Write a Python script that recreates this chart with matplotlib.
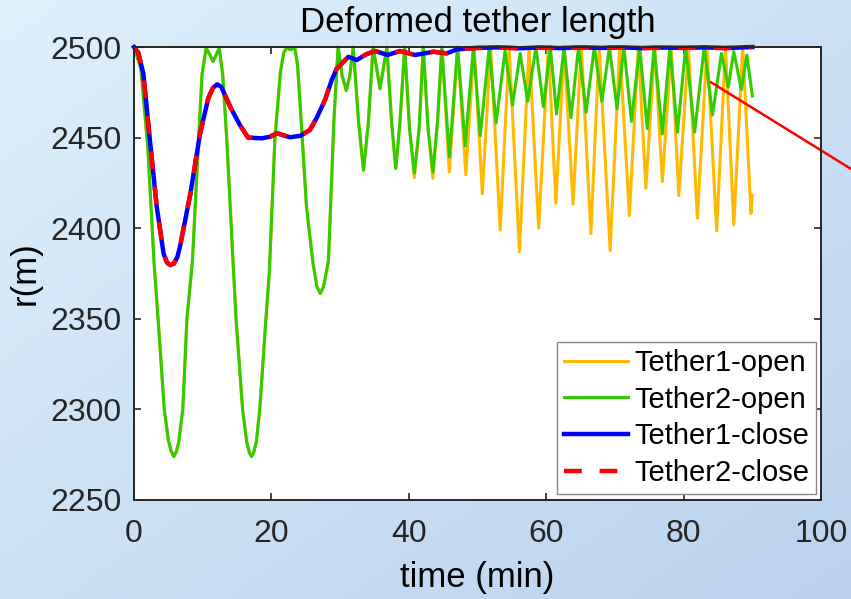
import numpy as np
import matplotlib
matplotlib.use("Agg")
import matplotlib.pyplot as plt

plt.rcParams['font.family'] = ['Liberation Sans', 'DejaVu Sans']

# Tether2-open (green)
t_open2 = [0, 1, 2, 2.9, 3.5, 4.4, 5.0, 5.4, 5.8, 6.2, 6.5, 7.1, 7.7, 8.5, 9.4, 9.9,
           10.5, 11.0, 11.5, 12.0, 12.4, 12.9, 13.5, 14.4, 14.85, 15.8, 16.4, 16.8,
           17.1, 17.4, 17.8, 18.3, 19.2, 19.7, 20.5, 21.3, 21.8, 22.2, 22.8, 23.4,
           23.8, 24.2, 25.1, 26.0, 26.6, 27.1, 27.6, 28.3, 29.1, 29.7, 30.3, 30.9,
           31.4, 31.9, 32.7, 33.4, 34.1, 34.8, 35.8, 36.8, 37.5, 38.1, 38.7, 39.4,
           40.1, 40.8, 41.5, 42.1, 42.8, 43.5, 44.2, 44.8,
           45.9, 47.1, 48.2, 49.4, 50.4, 51.7, 52.7, 54.0, 55.1, 56.2, 57.3, 58.5,
           59.6, 60.6, 61.5, 62.6, 63.6, 64.7, 65.8, 67.0, 68.1, 69.2, 70.3, 71.3,
           72.4, 73.6, 74.7, 75.7, 76.9, 78.0, 79.1, 80.3, 81.6, 83.0, 84.2, 85.5,
           86.5, 87.3, 88.4, 89.2, 90.0]
r_open2 = [2500, 2488, 2445, 2382, 2350, 2300, 2283, 2277, 2274, 2277, 2282, 2300,
           2350, 2382, 2449, 2485, 2499.5, 2496, 2492, 2496, 2499.5, 2485, 2449,
           2382, 2350, 2300, 2282, 2276, 2274, 2276, 2282, 2300, 2350, 2376, 2449,
           2486, 2497, 2499.5, 2498.5, 2499.5, 2490, 2467, 2412, 2382, 2368, 2364,
           2368, 2382, 2460, 2500, 2484, 2476, 2484, 2500, 2458, 2432, 2458, 2500,
           2477, 2500, 2458, 2433, 2458, 2500, 2455, 2430.5, 2455, 2500, 2455, 2431,
           2460, 2500,
           2439.5, 2500, 2445.5, 2500, 2451, 2500, 2458, 2498, 2468, 2496.5, 2470,
           2500, 2467, 2500, 2463, 2500, 2461, 2500, 2464, 2500, 2470, 2500, 2466,
           2500, 2459, 2500, 2455, 2500, 2452, 2500, 2453, 2500, 2453, 2500, 2462.5,
           2496.5, 2478, 2497.5, 2476.5, 2495.5, 2473]

# Tether1-open (orange): same as green up to ~44 min, then deeper troughs
t_open1 = [0, 1, 2, 2.9, 3.5, 4.4, 5.0, 5.4, 5.8, 6.2, 6.5, 7.1, 7.7, 8.5, 9.4, 9.9,
           10.5, 11.0, 11.5, 12.0, 12.4, 12.9, 13.5, 14.4, 14.85, 15.8, 16.4, 16.8,
           17.1, 17.4, 17.8, 18.3, 19.2, 19.7, 20.5, 21.3, 21.8, 22.2, 22.8, 23.4,
           23.8, 24.2, 25.1, 26.0, 26.6, 27.1, 27.6, 28.3, 29.1, 29.7, 30.3, 30.9,
           31.4, 31.9, 32.7, 33.4, 34.1, 34.8, 35.8, 36.8, 37.5, 38.1, 38.7, 39.4,
           40.1, 40.8, 41.5, 42.1, 42.8, 43.5, 44.2, 44.8,
           45.9, 47.1, 48.3, 49.5, 50.7, 51.9, 53.3, 54.6, 56.1, 57.5,
           58.9, 60.3, 61.4, 62.6, 63.9, 65.1, 66.5, 67.7, 69.3, 70.7,
           72.1, 73.4, 74.5, 75.8, 76.9, 78.2, 79.3, 80.7, 82.0, 83.4,
           84.8, 86.1, 87.3, 88.6, 89.8, 90.0]
r_open1 = [2500, 2488, 2445, 2382, 2350, 2300, 2283, 2277, 2274, 2277, 2282, 2300,
           2350, 2382, 2449, 2485, 2499.5, 2496, 2492, 2496, 2499.5, 2485, 2449,
           2382, 2350, 2300, 2282, 2276, 2274, 2276, 2282, 2300, 2350, 2376, 2449,
           2486, 2497, 2499.5, 2498.5, 2499.5, 2490, 2467, 2412, 2382, 2368, 2364,
           2368, 2382, 2460, 2500, 2484, 2476, 2484, 2500, 2458, 2432, 2458, 2500,
           2477, 2500, 2458, 2433, 2458, 2500, 2455, 2428, 2455, 2500, 2455, 2427.5,
           2460, 2500,
           2431, 2500, 2429.4, 2500, 2419, 2500, 2399, 2500, 2387, 2500, 2400, 2500,
           2413.7, 2500, 2413.4, 2500, 2397, 2500, 2387.6, 2500, 2407, 2500, 2422,
           2500, 2425.7, 2500, 2418, 2500, 2405.5, 2500, 2398.6, 2500, 2402, 2500,
           2408, 2418]

# Tether1-close / Tether2-close (same curve)
t_close = [0, 0.6, 1.35, 2.3, 3.3, 4.3, 4.8, 5.3, 5.8, 6.3, 6.7, 8.2, 9.6, 10.8,
           11.5, 12.1, 12.7, 13.3, 14.0, 15.4, 16.6, 18.6, 19.8, 20.8, 22.0, 22.7,
           24.2, 25.6, 26.6, 27.8, 28.8, 29.5, 31.2, 32.4, 33.8, 35.1, 36.9, 38.7,
           40.9, 43.6, 45.5, 47.0, 50, 53, 56, 59, 62, 65, 68, 71, 74, 77, 80, 83,
           86, 88, 90]
r_close = [2500, 2497, 2485.5, 2449, 2412, 2386, 2381, 2379.7, 2380.5, 2384, 2390,
           2419, 2452, 2471.7, 2477.5, 2479.4, 2478, 2473, 2467, 2457, 2450, 2449.6,
           2450.5, 2452.4, 2451, 2450.2, 2451, 2454.2, 2461, 2470.8, 2482, 2488,
           2494.6, 2492.8, 2496, 2497.8, 2495.6, 2497.8, 2495.6, 2497.4, 2496.5,
           2498.7, 2499.5, 2499.8, 2499.3, 2499.7, 2499.4, 2499.8, 2499.5, 2499.8,
           2499.4, 2499.7, 2499.5, 2499.8, 2499.4, 2499.7, 2500]

labels = ['Tether1-open', 'Tether2-open', 'Tether1-close', 'Tether2-close']

# red pointer line running off the right side
pointer_t = [84.0, 110.0]
pointer_r = [2480.5, 2419.5]

fig = plt.figure(figsize=(8.51, 5.99), dpi=100)

# light blue diagonal gradient background
bg = fig.add_axes([0, 0, 1, 1], zorder=-10)
gx, gy = np.meshgrid(np.linspace(0, 1, 200), np.linspace(0, 1, 200))
g = (gx + gy) / 2
c0 = np.array([222, 240, 252]) / 255
c1 = np.array([186, 210, 238]) / 255
img = c0[None, None, :] * (1 - g[..., None]) + c1[None, None, :] * g[..., None]
bg.imshow(img, aspect='auto', extent=[0, 1, 0, 1], origin='upper')
bg.axis('off')

ax = fig.add_axes([0.1575, 0.1653, 0.8073, 0.7562])
ax.set_facecolor('white')

lkw = dict(clip_on=False, solid_joinstyle='round', dash_joinstyle='round')
ax.plot(t_open1, r_open1, color='#FFB900', lw=2.2, label=labels[0], **lkw)
ax.plot(t_open2, r_open2, color='#33CC00', lw=2.2, label=labels[1], **lkw)
ax.plot(t_close, r_close, color='#0000FF', lw=3.2, label=labels[2], **lkw)
ax.plot(t_close, r_close, color='#FF0000', lw=3.2, dashes=(4, 4), label=labels[3],
        **lkw)
ax.plot(pointer_t, pointer_r, color='#FF0000', lw=1.8, clip_on=False)

ax.set_xlim(0, 100)
ax.set_ylim(2250, 2500)
ax.set_xticks([0, 20, 40, 60, 80, 100])
ax.set_yticks([2250, 2300, 2350, 2400, 2450, 2500])
ax.tick_params(direction='in', length=5, width=1.2, labelsize=23, colors='#262626',
               top=True, right=True)
ax.tick_params(axis='x', pad=14)
ax.tick_params(axis='y', pad=9)
for s in ax.spines.values():
    s.set_linewidth(1.4)
    s.set_color('#262626')

ax.set_title('Deformed tether length', fontsize=25, pad=11)
ax.set_xlabel('time (min)', fontsize=25, labelpad=8)
ax.set_ylabel('r(m)', fontsize=25, labelpad=6)

leg = ax.legend(loc='lower right', bbox_to_anchor=(816 / 851, 1 - 494 / 599),
                bbox_transform=fig.transFigure, fontsize=21, fancybox=False,
                framealpha=1, edgecolor='#888888', handlelength=2.2,
                handletextpad=0.2, labelspacing=0.3, borderpad=0.24,
                borderaxespad=0)
leg.get_frame().set_linewidth(1.0)

fig.savefig('out.png', dpi=100)
